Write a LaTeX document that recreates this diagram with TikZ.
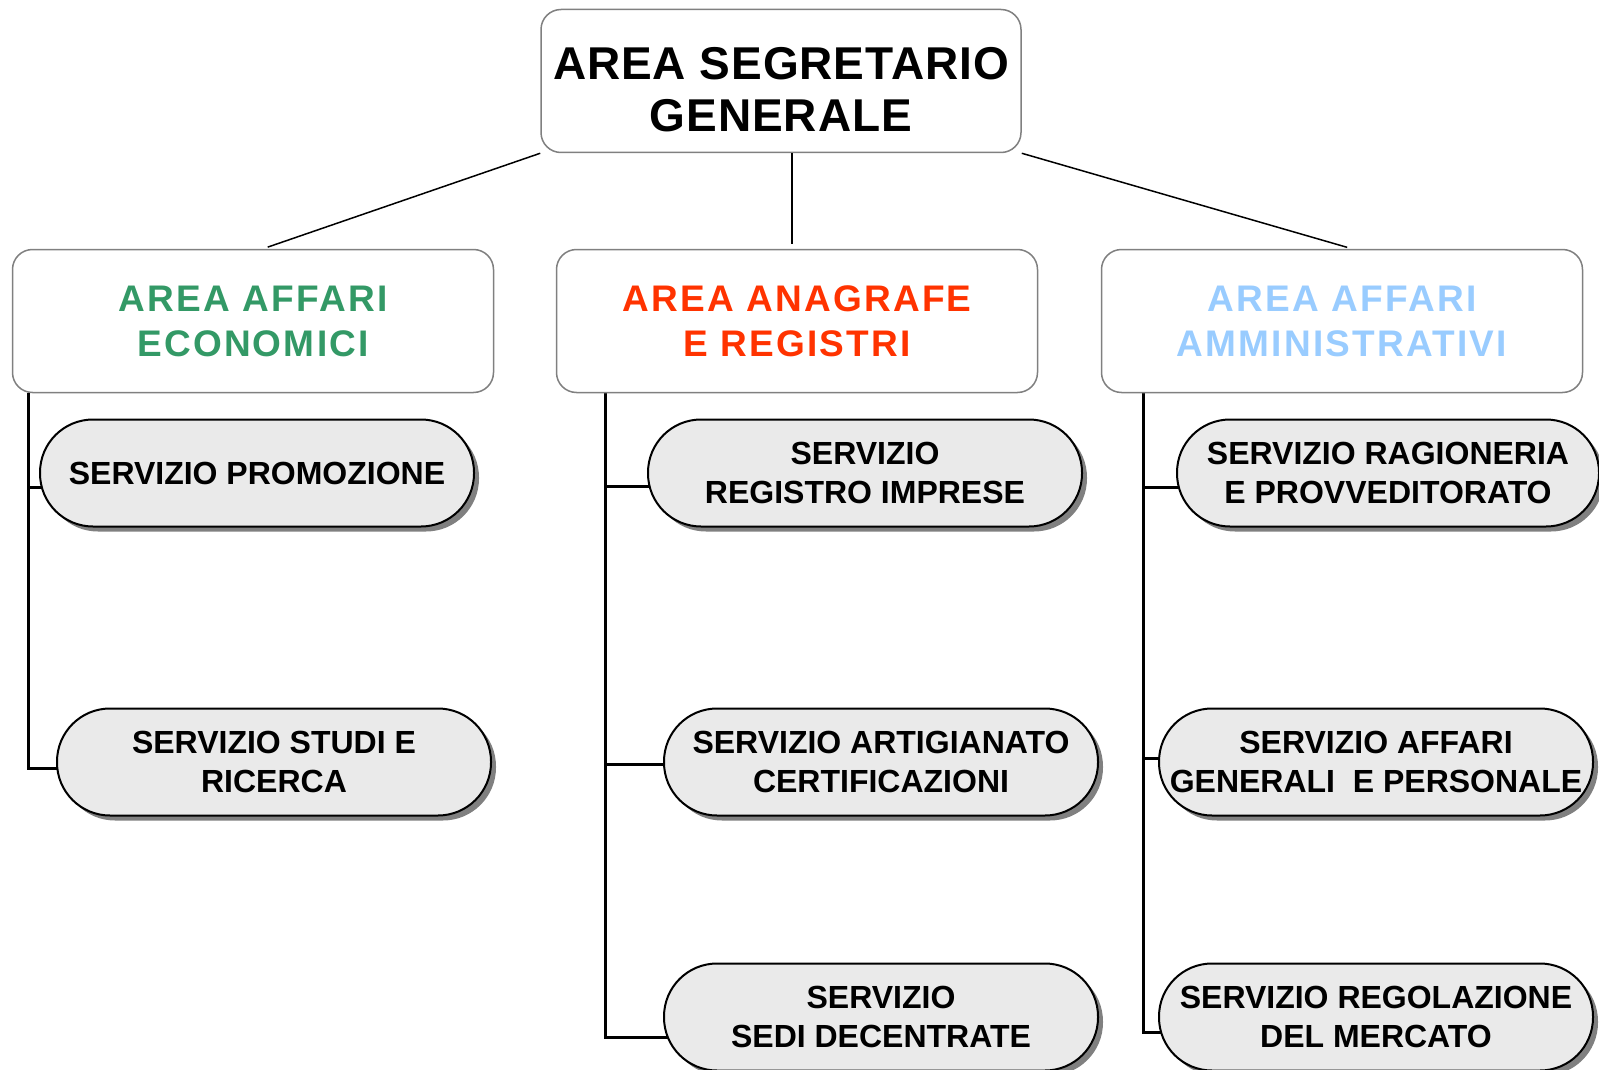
\documentclass[tikz,border=0pt]{standalone}
\usepackage{fontspec}
\setmainfont{Liberation Sans}
\newfontfamily\spacedfont{Liberation Sans}[LetterSpace=6]
\newfontfamily\headfont{Liberation Sans}[LetterSpace=2]
\usetikzlibrary{shadows,backgrounds}
\definecolor{areagreen}{RGB}{51,153,102}
\definecolor{areared}{RGB}{255,51,0}
\definecolor{areablue}{RGB}{153,204,255}
\definecolor{servicegray}{RGB}{234,234,234}
\definecolor{shadowgray}{RGB}{128,128,128}

\begin{document}
\begin{tikzpicture}[x=1pt, y=-1pt]
    \tikzstyle{every node}=[align=center]
    \tikzstyle{head}=[draw=shadowgray, line width=1.5pt, rounded corners=20pt, fill=white, minimum width=480pt, minimum height=143pt, inner sep=0pt]
    \tikzstyle{area}=[head, minimum width=481pt, font=\fontsize{37}{45}\selectfont\spacedfont\bfseries]
    \tikzstyle{service}=[draw=black, line width=2pt, fill=servicegray, rounded corners=53pt, minimum width=434pt, minimum height=107pt, inner sep=0pt, font=\fontsize{32}{39}\selectfont\bfseries, drop shadow={shadow xshift=5pt, shadow yshift=-5pt, fill=shadowgray, opacity=1}]
    \tikzstyle{link}=[line width=1.5pt, shorten >=5pt]
    \tikzstyle{trunk}=[line width=3pt, shorten >=-6pt]
    \useasboundingbox (0,0) rectangle (1599,1070);
    \node [head, font=\fontsize{46}{52}\selectfont\headfont\bfseries, text height=102pt] (top) at (781,81) {AREA SEGRETARIO\\GENERALE};
    \node [area, text=areagreen] (eco) at (253,321) {AREA AFFARI\\ECONOMICI};
    \node [area, text=areared] (anag) at (797,321) {AREA ANAGRAFE\\E REGISTRI};
    \node [area, text=areablue] (amm) at (1342,321) {AREA AFFARI\\AMMINISTRATIVI};
    \node [service] (promo) at (257,473) {SERVIZIO PROMOZIONE};
    \node [service] (studi) at (274,762) {SERVIZIO STUDI E\\RICERCA};
    \node [service] (registro) at (865,473) {SERVIZIO\\REGISTRO IMPRESE};
    \node [service] (artig) at (881,762) {SERVIZIO ARTIGIANATO\\CERTIFICAZIONI};
    \node [service] (sedi) at (881,1017) {SERVIZIO\\SEDI DECENTRATE};
    \node [service, minimum width=422pt] (ragion) at (1388,473) {SERVIZIO RAGIONERIA\\E PROVVEDITORATO};
    \node [service] (generali) at (1376,762) {SERVIZIO AFFARI\\GENERALI\ \ E PERSONALE};
    \node [service] (regola) at (1376,1017) {SERVIZIO REGOLAZIONE\\DEL MERCATO};
    \coordinate (ecoTrunk) at ([xshift=17pt]eco.south west);
    \coordinate (anagTrunk) at ([xshift=50pt]anag.south west);
    \coordinate (ammTrunk) at ([xshift=43pt]amm.south west);
    \draw[link] (top.south west) -- ([xshift=10pt]eco.north);
    \draw[link] ([xshift=-5pt]anag.north |- top.south) -- ([xshift=-5pt]anag.north);
    \draw[link] (top.south east) -- ([xshift=10pt]amm.north);
    \begin{scope}[on background layer]
        \fill[white] (0,0) rectangle (1599,1070);
        \draw[trunk] (ecoTrunk) |- ([yshift=-14pt]promo.west);
        \draw[trunk] (ecoTrunk) |- ([yshift=-6pt]studi.west);
        \draw[trunk] (anagTrunk) |- ([yshift=-13pt]registro.west);
        \draw[trunk] (anagTrunk) |- ([yshift=-2pt]artig.west);
        \draw[trunk] (anagTrunk) |- ([yshift=-20pt]sedi.west);
        \draw[trunk] (ammTrunk) |- ([yshift=-14pt]ragion.west);
        \draw[trunk] (ammTrunk) |- ([yshift=4pt]generali.west);
        \draw[trunk] (ammTrunk) |- ([yshift=-15pt]regola.west);
    \end{scope}
\end{tikzpicture}
\end{document}
